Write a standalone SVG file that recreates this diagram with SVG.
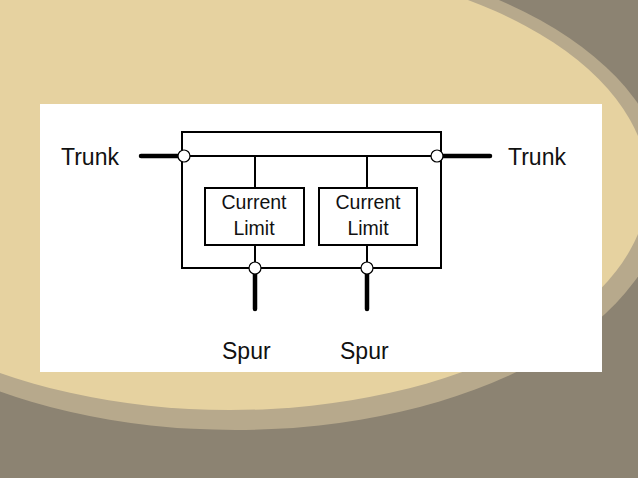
<svg xmlns="http://www.w3.org/2000/svg" width="638" height="478" viewBox="0 0 638 478">
<style>
.w{fill:none;stroke:#000;stroke-width:2}
.t{stroke:#000;stroke-width:4.5;stroke-linecap:round}
.b{fill:#fff;stroke:#000;stroke-width:2}
.c{fill:#fff;stroke:#000;stroke-width:1.2}
text{font-family:"Liberation Sans",Arial,sans-serif;font-size:23px;fill:#111}
.s{font-size:19.5px;text-anchor:middle}
</style>
<rect width="638" height="478" fill="#8c8372"/>
<ellipse cx="235" cy="190" rx="432" ry="240" fill="#b7a98c"/>
<ellipse cx="230" cy="185" rx="418" ry="225" fill="#e6d2a0"/>
<rect x="40" y="104" width="562" height="268" fill="#fff"/>
<g id="connectors">
<rect class="w" x="182" y="132" width="259" height="136"/>
<line class="w" x1="184" y1="156" x2="437" y2="156"/>
<line class="w" x1="255" y1="156" x2="255" y2="188"/>
<line class="w" x1="367" y1="156" x2="367" y2="188"/>
<line class="w" x1="255" y1="245" x2="255" y2="268"/>
<line class="w" x1="367" y1="245" x2="367" y2="268"/>
<line class="t" x1="141" y1="156" x2="180" y2="156"/>
<line class="t" x1="442" y1="156" x2="490" y2="156"/>
<line class="t" x1="255" y1="272" x2="255" y2="309"/>
<line class="t" x1="367" y1="272" x2="367" y2="309"/>
</g>
<g id="j1"><circle class="c" cx="184" cy="156" r="6"/></g>
<g id="j2"><circle class="c" cx="437" cy="156" r="6"/></g>
<g id="j3"><circle class="c" cx="255" cy="268" r="6"/></g>
<g id="j4"><circle class="c" cx="367" cy="268" r="6"/></g>
<g id="cl1"><rect class="b" x="205" y="188" width="99" height="57"/><text class="s" x="254" y="209">Current</text><text class="s" x="254" y="235">Limit</text></g>
<g id="cl2"><rect class="b" x="319" y="188" width="98" height="57"/><text class="s" x="368" y="209">Current</text><text class="s" x="368" y="235">Limit</text></g>
<g id="trunkL"><text x="61" y="165">Trunk</text></g>
<g id="trunkR"><text x="508" y="165">Trunk</text></g>
<g id="spur1"><text x="222" y="359">Spur</text></g>
<g id="spur2"><text x="340" y="359">Spur</text></g>
</svg>
